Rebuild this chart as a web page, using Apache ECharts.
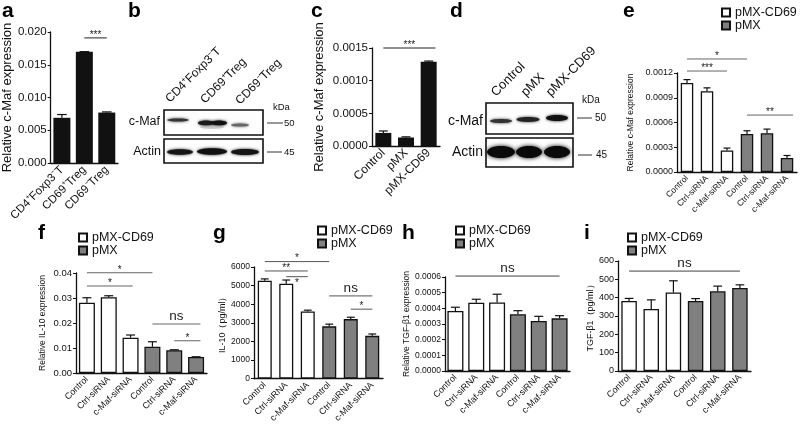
<!DOCTYPE html>
<html><head><meta charset="utf-8">
<script src="https://cdn.jsdelivr.net/npm/echarts@6/dist/echarts.min.js"></script>
<style>html,body{margin:0;padding:0;background:#fff}#c{width:800px;height:425px}</style>
</head><body><div id="c"></div>
<script>
// ---------------- data ----------------
const groupNames = ['pMX-CD69', 'pMX'];

const catsA = ['CD4⁺Foxp3⁻T', 'CD69⁺Treg', 'CD69⁻Treg'];
const valsA = [0.0069, 0.0170, 0.0077];
const errA  = [0.0005, 0.0000, 0.0001];
const sigA  = [{from: 1, to: 2, y: 0.0191, text: '***'}];

const catsC = ['Control', 'pMX', 'pMX-CD69'];
const valsC = [0.00020, 0.00013, 0.00129];
const errC  = [0.00003, 0.00001, 0.00001];
const sigC  = [{from: 0, to: 2.3, y: 0.0015, text: '***'}];

const siCats = ['Control', 'Ctrl-siRNA', 'c-Maf-siRNA', 'Control', 'Ctrl-siRNA', 'c-Maf-siRNA'];

const valsE = [0.00108, 0.00098, 0.00026, 0.00046, 0.00047, 0.00017];
const errE  = [0.00004, 0.00004, 0.00003, 0.00004, 0.00005, 0.00003];
const sigE  = [{from: 0, to: 3, y: 0.00137, text: '*'},
               {from: 0, to: 2, y: 0.001224, text: '***'},
               {from: 3, to: 5.3, y: 0.00069, text: '**'}];

const valsF = [0.0281, 0.0303, 0.0141, 0.0105, 0.0091, 0.0064];
const errF  = [0.0020, 0.0006, 0.0011, 0.0020, 0.0002, 0.0001];
const sigF  = [{from: 0, to: 3, y: 0.0401, text: '*'},
               {from: 0, to: 2.1, y: 0.0348, text: '*'},
               {from: 3, to: 5.2, y: 0.0196, text: 'ns'},
               {from: 4, to: 5.2, y: 0.0129, text: '*'}];

const valsG = [5260, 5100, 3610, 2810, 3200, 2300];
const errG  = [100, 200, 70, 120, 100, 100];
const sigG  = [{from: 0, to: 3, y: 6290, text: '*'},
               {from: 0, to: 2, y: 5786, text: '**'},
               {from: 1, to: 2, y: 5480, text: '*', below: true},
               {from: 3, to: 5, y: 4446, text: 'ns'},
               {from: 4, to: 5, y: 3734, text: '*'}];

const valsH = [0.000383, 0.000436, 0.000438, 0.000362, 0.000319, 0.000336];
const errH  = [0.000024, 0.000022, 0.000052, 0.000023, 0.000030, 0.000017];
const sigH  = [{from: 0, to: 5, y: 0.000606, text: 'ns'}];

const valsI = [382, 338, 428, 382, 435, 453];
const errI  = [14, 50, 64, 13, 28, 17];
const sigI  = [{from: 0, to: 5, y: 545, text: 'ns'}];

// ---------------- layout / styles ----------------
const FONT = "'Liberation Sans', Arial, sans-serif";
const INK = '#111';

const panels = [
  {cats: catsA, vals: valsA, err: errA, sig: sigA, mode: 'single', max: 0.02, interval: 0.005, dec: 3,
   grid: {left: 49, top: 32, width: 69, height: 131}, yName: 'Relative c-Maf expression', nameGap: 30, nameSize: 13,
   tickSize: 11.5, xSize: 11.5, barWidth: 17, sigColor: '#222'},
  {cats: catsC, vals: valsC, err: errC, sig: sigC, mode: 'single', max: 0.0015, interval: 0.0005, dec: 4,
   grid: {left: 372, top: 48, width: 68, height: 98}, yName: 'Relative c-Maf expression', nameGap: 46, nameSize: 13,
   tickSize: 11.5, xSize: 12, barWidth: 16, sigColor: '#222'},
  {cats: siCats, vals: valsE, err: errE, sig: sigE, mode: 'group', max: 0.0012, interval: 0.0003, dec: 4,
   grid: {left: 677, top: 73, width: 120, height: 99}, yName: 'Relative c-Maf expression', nameGap: 42, nameSize: 8.5,
   tickSize: 9, xSize: 8.5, barWidth: 12.5, sigColor: '#666',
   legend: {left: 721, top: 6}},
  {cats: siCats, vals: valsF, err: errF, sig: sigF, mode: 'group', max: 0.04, interval: 0.01, dec: 2,
   grid: {left: 76, top: 273, width: 131, height: 100}, yName: 'Relative IL-10 expression', nameGap: 29, nameSize: 8.5,
   tickSize: 9.5, xSize: 9, barWidth: 16, sigColor: '#666',
   legend: {left: 78, top: 231}},
  {cats: siCats, vals: valsG, err: errG, sig: sigG, mode: 'group', max: 6000, interval: 1000, dec: 0,
   grid: {left: 254, top: 267, width: 129, height: 112}, yName: 'IL-10（pg/ml）', nameGap: 25, nameSize: 9,
   tickSize: 8.5, xSize: 9, barWidth: 14, sigColor: '#555',
   legend: {left: 317, top: 224}},
  {cats: siCats, vals: valsH, err: errH, sig: sigH, mode: 'group', max: 0.0006, interval: 0.0001, dec: 4,
   grid: {left: 445, top: 277, width: 125, height: 94}, yName: 'Relative TGF-β1 expression', nameGap: 23, nameSize: 8.5,
   tickSize: 8.5, xSize: 9, barWidth: 16, sigColor: '#444',
   legend: {left: 455, top: 224}},
  {cats: siCats, vals: valsI, err: errI, sig: sigI, mode: 'group', max: 600, interval: 100, dec: 0,
   grid: {left: 618, top: 261, width: 133, height: 110}, yName: 'TGF-β1（pg/ml）', nameGap: 23, nameSize: 9,
   tickSize: 9, xSize: 9, barWidth: 15.5, sigColor: '#444',
   legend: {left: 627, top: 231}}
];

function makeErr(barWidth) {
  return function (params, api) {
    const i = api.value(0), v = api.value(1), e = api.value(2);
    const p0 = api.coord([i, v]), p1 = api.coord([i, v + e]);
    const cap = Math.max(3, barWidth * 0.28);
    return {type: 'group', children: [
      {type: 'line', shape: {x1: p0[0], y1: p0[1], x2: p1[0], y2: p1[1]}, style: {stroke: INK, lineWidth: 1.2}},
      {type: 'line', shape: {x1: p1[0] - cap, y1: p1[1], x2: p1[0] + cap, y2: p1[1]}, style: {stroke: INK, lineWidth: 1.2}}
    ]};
  };
}

function makeSig(list, color) {
  return function (params, api) {
    const s = list[params.dataIndex];
    const base = api.coord([0, s.y]);
    const w = api.size([1, 0])[0];
    const x1 = base[0] + s.from * w, x2 = base[0] + s.to * w, y = base[1];
    const isNs = s.text === 'ns';
    let ty, va;
    if (isNs) { ty = y - 1; va = 'bottom'; }
    else if (s.below) { ty = y + 2; va = 'top'; }
    else { ty = y - 8; va = 'top'; }
    return {type: 'group', children: [
      {type: 'line', shape: {x1: x1, y1: y, x2: x2, y2: y}, style: {stroke: color, lineWidth: 1}},
      {type: 'text', x: (x1 + x2) / 2, y: ty,
       style: {text: s.text, fontSize: isNs ? 13.5 : 10, fontFamily: FONT, fill: '#222', align: 'center', verticalAlign: va}}
    ]};
  };
}

const option = {
  animation: false,
  textStyle: {fontFamily: FONT},
  grid: [], xAxis: [], yAxis: [], series: [], legend: [], graphic: []
};

panels.forEach((p, i) => {
  option.grid.push(Object.assign({containLabel: false}, p.grid));
  option.xAxis.push({
    type: 'category', gridIndex: i, data: p.cats,
    axisLine: {lineStyle: {color: INK, width: 1.3}},
    axisTick: {show: false},
    axisLabel: {rotate: 45, interval: 0, fontSize: p.xSize, color: INK, margin: 5, fontFamily: FONT}
  });
  option.yAxis.push({
    type: 'value', gridIndex: i, min: 0, max: p.max, interval: p.interval,
    splitLine: {show: false},
    axisLine: {show: true, lineStyle: {color: INK, width: 1.3}},
    axisTick: {show: true, length: 3, lineStyle: {color: INK}},
    axisLabel: {fontSize: p.tickSize, color: INK, margin: 4, fontFamily: FONT,
                formatter: v => v.toFixed(p.dec)},
    name: p.yName, nameLocation: 'middle', nameGap: p.nameGap,
    nameTextStyle: {fontSize: p.nameSize, color: INK, fontFamily: FONT}
  });
  if (p.mode === 'single') {
    option.series.push({type: 'bar', xAxisIndex: i, yAxisIndex: i, data: p.vals, barWidth: p.barWidth,
      itemStyle: {color: INK}, silent: true});
  } else {
    const half = p.vals.length / 2;
    option.series.push({type: 'bar', name: groupNames[0], xAxisIndex: i, yAxisIndex: i,
      data: p.vals.map((v, j) => j < half ? v : '-'), barWidth: p.barWidth, barGap: '-100%',
      itemStyle: {color: '#ffffff', borderColor: INK, borderWidth: 1.3}, silent: true});
    option.series.push({type: 'bar', name: groupNames[1], xAxisIndex: i, yAxisIndex: i,
      data: p.vals.map((v, j) => j >= half ? v : '-'), barWidth: p.barWidth, barGap: '-100%',
      itemStyle: {color: '#808080', borderColor: INK, borderWidth: 1.3}, silent: true});
    option.legend.push({
      left: p.legend.left, top: p.legend.top, orient: 'vertical', padding: 0, itemGap: 0,
      itemWidth: 8, itemHeight: 8, icon: 'rect', data: groupNames, selectedMode: false,
      textStyle: {fontSize: 12.5, color: INK, fontFamily: FONT, lineHeight: 12, padding: [0, 0, 0, 0]}
    });
  }
  option.series.push({type: 'custom', xAxisIndex: i, yAxisIndex: i, clip: false, z: 5, silent: true,
    data: p.vals.map((v, j) => [j, v, p.err[j]]), renderItem: makeErr(p.barWidth)});
  option.series.push({type: 'custom', xAxisIndex: i, yAxisIndex: i, clip: false, z: 6, silent: true,
    data: p.sig.map(s => [s.from, s.y, s.to]), encode: {x: 0, y: 1}, renderItem: makeSig(p.sig, p.sigColor)});
});

// ---------------- decorations: panel letters and western blots ----------------
const letters = [['a', 2, 11], ['b', 128, 11], ['c', 311, 11], ['d', 450, 11], ['e', 623, 11],
                 ['f', 38, 233], ['g', 213, 233], ['h', 402, 233], ['i', 584, 233]];
letters.forEach(l => option.graphic.push({type: 'text', x: l[1], y: l[2],
  style: {text: l[0], fontSize: 21, fontWeight: 'bold', fontFamily: FONT, fill: '#000', verticalAlign: 'middle'}}));

function txt(t, x, y, size, align, rot) {
  return {type: 'text', x: x, y: y, rotation: rot || 0,
    style: {text: t, fontSize: size, fontFamily: FONT, fill: INK, align: align || 'left',
            verticalAlign: rot ? 'bottom' : 'middle'}};
}
function box(x, y, w, h) {
  return {type: 'rect', shape: {x: x, y: y, width: w, height: h},
    style: {fill: '#fdfdfd', stroke: INK, lineWidth: 1.6}};
}
function band(cx, cy, rx, ry, color, blur) {
  return {type: 'ellipse', shape: {cx: cx, cy: cy, rx: rx, ry: ry},
    style: {fill: color, shadowBlur: blur, shadowColor: color}};
}
function line(x1, y1, x2, y2) {
  return {type: 'line', shape: {x1: x1, y1: y1, x2: x2, y2: y2}, style: {stroke: '#333', lineWidth: 1}};
}
const R = Math.PI / 4;
// blot b
option.graphic.push(
  box(164, 110, 99, 25), box(164, 139, 99, 24),
  band(178, 120, 11, 1.5, '#333', 3),
  band(206, 123, 8, 2.4, '#1a1a1a', 3), band(219, 123, 8, 2.4, '#111', 3), band(212, 127, 12, 2, 'rgba(120,120,120,0.3)', 4),
  band(240, 125, 9, 1.6, '#666', 3),
  band(180, 152, 13, 2.8, '#151515', 3), band(212, 151.5, 15, 3.2, '#111', 3), band(245, 152, 14, 3, '#151515', 3),
  txt('c-Maf', 160, 122, 12.5, 'right'), txt('Actin', 161, 152, 12.5, 'right'),
  txt('kDa', 273, 107, 9.5), line(267, 123, 283, 123), txt('50', 284, 123, 9.5),
  line(267, 152, 282, 152), txt('45', 284, 152, 9.5),
  txt('CD4⁺Foxp3⁻T', 172, 105, 12, 'left', R), txt('CD69⁺Treg', 207, 106, 12, 'left', R),
  txt('CD69⁻Treg', 242, 107, 12, 'left', R)
);
// blot d
option.graphic.push(
  box(486, 103, 87, 31), box(486, 138, 87, 29),
  band(501, 121, 11, 2, '#333', 3), band(528, 119.5, 11.5, 2.4, '#222', 3), band(557, 118, 11, 3, '#111', 3),
  band(501, 152, 14, 6, '#0a0a0a', 4), band(529, 152, 13, 6, '#0a0a0a', 4), band(557, 152, 13, 6, '#0a0a0a', 4),
  txt('c-Maf', 483, 121, 14, 'right'), txt('Actin', 483, 152, 14, 'right'),
  txt('kDa', 582, 100, 10), line(577, 118, 592, 118), txt('50', 595, 118, 10),
  line(578, 155, 592, 155), txt('45', 596, 155, 10),
  txt('Control', 498, 99, 13, 'left', R), txt('pMX', 528, 99, 13, 'left', R), txt('pMX-CD69', 553, 99, 13, 'left', R)
);

const chart = echarts.init(document.getElementById('c'), null, {renderer: 'canvas'});
chart.setOption(option);
</script>
</body></html>
